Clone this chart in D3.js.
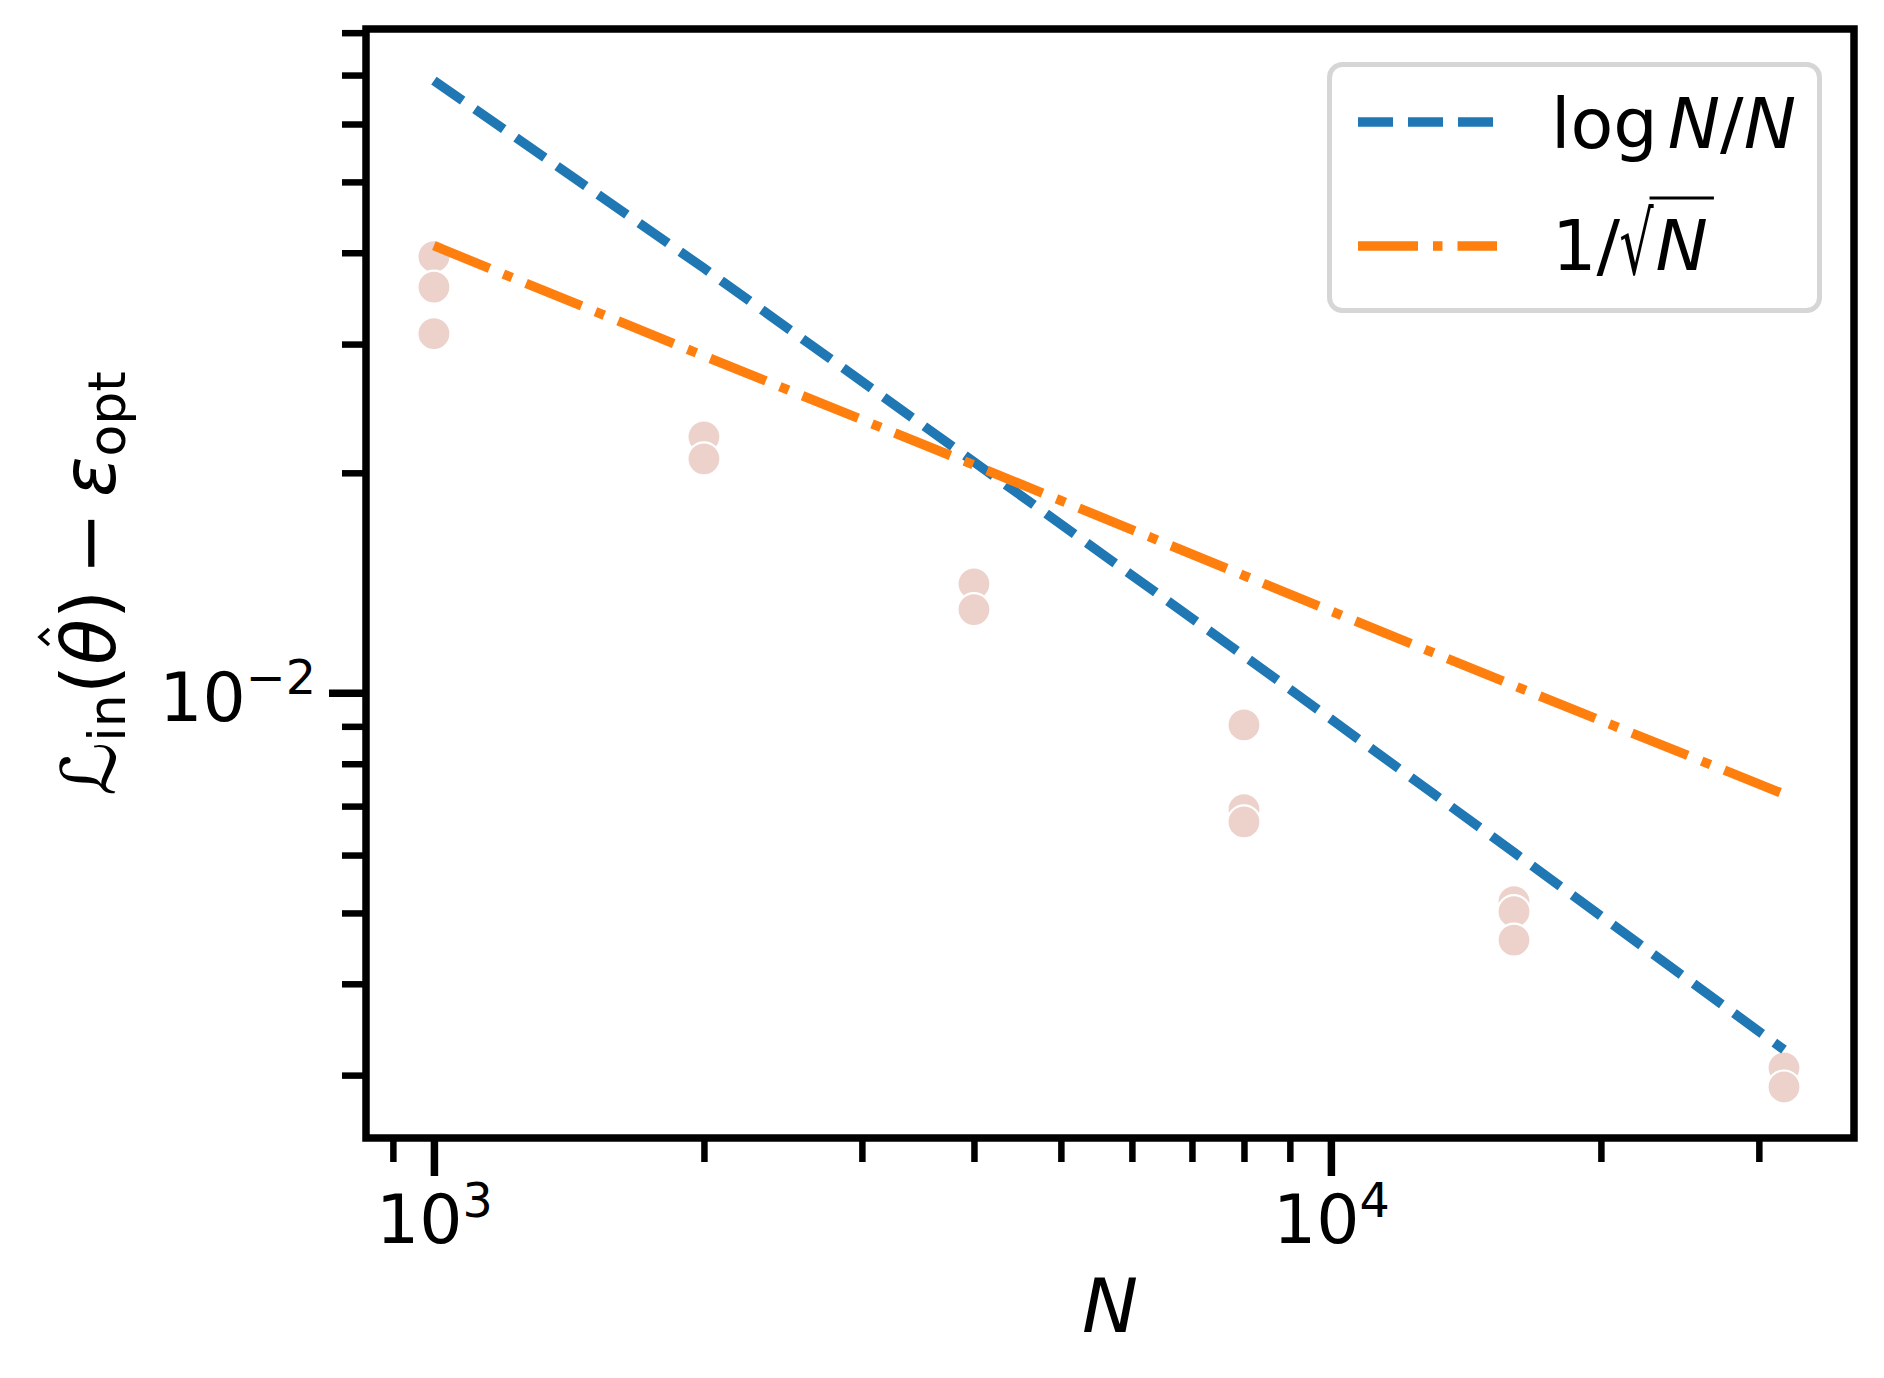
<!DOCTYPE html>
<meta charset="utf-8">
<style>
body { margin: 0; background: #fff; }
svg text { font-family: "DejaVu Sans", sans-serif; fill: #000; }
.rate { fill: none; stroke-width: 9.5; stroke-linecap: butt; }
</style>
<body>
<script src="https://d3js.org/d3.v7.min.js"></script>
<script>

// sample sizes and the two reference rates
var sizes    = [1000, 2000, 4000, 8000, 16000, 32000];
var logRate  = [0.0688, 0.0381, 0.0207, 0.01124, 0.00605, 0.00325];
var sqrtRate = [0.0409, 0.0289, 0.0205, 0.01447, 0.01023, 0.00727];

// individual runs (N, excess loss)
var runN    = [1000, 1000, 1000, 2000, 2000, 4000, 4000, 8000, 8000, 8000,
               16000, 16000, 16000, 32000, 32000];
var runLoss = [0.0395, 0.0359, 0.0310, 0.0224, 0.0209, 0.0141, 0.0130,
               0.00904, 0.00692, 0.00666, 0.00518, 0.00502, 0.00459,
               0.00307, 0.00289];

var xMajor = [1000, 10000];
var xMajorExp = ["3", "4"];
var yMajor = [0.01];
var yMajorExp = ["\u22122"];

var margin = {top: 29, right: 30, bottom: 240, left: 366},
    width = 1884 - margin.left - margin.right,
    height = 1378 - margin.top - margin.bottom;

var x = d3.scaleLog().domain([840, 38300]).range([0, width]);
var y = d3.scaleLog().domain([0.002461, 0.08093]).range([height, 0]);

var root = d3.select("body").append("svg")
    .attr("width", 1884)
    .attr("height", 1378);

var svg = root.append("g")
    .attr("transform", "translate(" + margin.left + "," + margin.top + ")");

// scatter of runs
var runs = runN.map(function(n, i) { return {n: n, v: runLoss[i]}; });
svg.selectAll(".run")
    .data(runs)
  .enter().append("circle")
    .attr("class", "run")
    .attr("cx", function(d) { return x(d.n); })
    .attr("cy", function(d) { return y(d.v); })
    .attr("r", 16.5)
    .style("fill", "#ecd2cb")
    .style("stroke", "#fff")
    .style("stroke-width", 2.2);

// reference lines
var logData = sizes.map(function(n, i) { return {n: n, v: logRate[i]}; });
var sqrtData = sizes.map(function(n, i) { return {n: n, v: sqrtRate[i]}; });
var line = d3.line()
    .x(function(d) { return x(d.n); })
    .y(function(d) { return y(d.v); });

svg.append("path")
    .data([logData])
    .attr("class", "rate")
    .style("stroke", "#1f77b4")
    .style("stroke-dasharray", "35,15")
    .attr("d", line);

svg.append("path")
    .data([sqrtData])
    .attr("class", "rate")
    .style("stroke", "#ff7f0e")
    .style("stroke-dasharray", "60,15,9.5,15")
    .attr("d", line);

// axes: minor ticks, then major ticks with 10^k labels
var xMinor = x.ticks().filter(function(t) { return xMajor.indexOf(t) < 0; });
var yMinor = y.ticks().filter(function(t) { return Math.abs(Math.log10(t) + 2) > 1e-9; });

function styleAxis(g, w) {
  g.select(".domain").remove();
  g.selectAll("text").remove();
  g.selectAll(".tick line").style("stroke", "#000").style("stroke-width", w);
}

svg.append("g")
    .attr("transform", "translate(0," + height + ")")
    .call(d3.axisBottom(x).tickValues(xMinor).tickSize(24).tickFormat(""))
    .call(styleAxis, 6.5);

var xg = svg.append("g")
    .attr("transform", "translate(0," + height + ")")
    .call(d3.axisBottom(x).tickValues(xMajor).tickSize(38).tickFormat(""))
    .call(styleAxis, 7.5);

xg.selectAll(".tick").each(function(d, i) {
  var t = d3.select(this).append("text")
      .attr("y", 105)
      .attr("text-anchor", "middle")
      .style("font-size", "68px");
  t.append("tspan").text("10");
  t.append("tspan").attr("dy", -26).style("font-size", "47.6px").text(xMajorExp[i]);
});

svg.append("g")
    .call(d3.axisLeft(y).tickValues(yMinor).tickSize(24).tickFormat(""))
    .call(styleAxis, 6.5);

var yg = svg.append("g")
    .call(d3.axisLeft(y).tickValues(yMajor).tickSize(37).tickFormat(""))
    .call(styleAxis, 7.5);

yg.selectAll(".tick").each(function(d, i) {
  var t = d3.select(this).append("text")
      .attr("x", -50)
      .attr("y", 28)
      .attr("text-anchor", "end")
      .style("font-size", "68px");
  t.append("tspan").text("10");
  t.append("tspan").attr("dy", -27).style("font-size", "47.6px").text(yMajorExp[i]);
});

// frame
svg.append("rect")
    .attr("width", width)
    .attr("height", height)
    .style("fill", "none")
    .style("stroke", "#000")
    .style("stroke-width", 7.5);

// axis labels
root.append("text")
    .attr("x", margin.left + width / 2)
    .attr("y", 1332)
    .attr("text-anchor", "middle")
    .style("font-size", "75px")
    .style("font-style", "italic")
    .text("N");

var ylab = root.append("text")
    .attr("transform", "translate(115," + (margin.top + height / 2) + ") rotate(-90)")
    .attr("text-anchor", "middle")
    .style("font-size", "75px");
ylab.append("tspan").style("font-style", "italic").text("\u2112");
ylab.append("tspan").attr("dy", 10).style("font-size", "52px").text("in");
ylab.append("tspan").attr("dy", -10).text("(");
ylab.append("tspan").style("font-style", "italic").text("\u03b8");
ylab.append("tspan").text(")\u2009\u2212\u2009");
ylab.append("tspan").style("font-style", "italic").text("\u03b5");
ylab.append("tspan").attr("dy", 10).style("font-size", "52px").text("opt");

// hat over theta (char index 4)
var th = ylab.node().getExtentOfChar(4);
var hx = th.x + th.width / 2 + 5;
root.append("path")
    .attr("transform", "translate(115," + (margin.top + height / 2) + ") rotate(-90)")
    .attr("d", "M" + (hx - 8) + ",-66L" + hx + ",-75L" + (hx + 8) + ",-66")
    .style("fill", "none")
    .style("stroke", "#000")
    .style("stroke-width", 3.5);

// legend
var legend = root.append("g");
legend.append("rect")
    .attr("x", 1329.5).attr("y", 64.5)
    .attr("width", 490).attr("height", 246)
    .attr("rx", 13)
    .style("fill", "#fff")
    .style("stroke", "#d6d6d6")
    .style("stroke-width", 5);

legend.append("line")
    .attr("x1", 1358).attr("x2", 1494).attr("y1", 122).attr("y2", 122)
    .attr("class", "rate")
    .style("stroke", "#1f77b4")
    .style("stroke-dasharray", "35,15");

legend.append("line")
    .attr("x1", 1358).attr("x2", 1497).attr("y1", 246).attr("y2", 246)
    .attr("class", "rate")
    .style("stroke", "#ff7f0e")
    .style("stroke-dasharray", "60,15,9.5,15");

var l1 = legend.append("text")
    .attr("x", 1551).attr("y", 148)
    .style("font-size", "70px");
l1.append("tspan").text("log");
l1.append("tspan").attr("dx", 10).style("font-style", "italic").text("N");
l1.append("tspan").text("/");
l1.append("tspan").style("font-style", "italic").text("N");

// 1/sqrt(N): radical glyph stretched to reach the vinculum
var one = legend.append("text")
    .attr("x", 1552).attr("y", 270)
    .style("font-size", "70px")
    .text("1/");
var rx0 = 1552 + one.node().getComputedTextLength() - 1;
var radScale = [0.75, 1.2];
var rad = legend.append("text")
    .attr("transform", "translate(" + rx0 + ",274) scale(" + radScale[0] + "," + radScale[1] + ")")
    .style("font-size", "72px")
    .text("\u221a");
var rx1 = rx0 + rad.node().getComputedTextLength() * radScale[0];
var nText = legend.append("text")
    .attr("x", rx1 + 2).attr("y", 270)
    .style("font-size", "70px")
    .style("font-style", "italic")
    .text("N");
var nx1 = rx1 + 2 + nText.node().getComputedTextLength();

legend.append("line")
    .attr("x1", rx1 - 4)
    .attr("x2", nx1 + 6)
    .attr("y1", 198).attr("y2", 198)
    .style("stroke", "#000")
    .style("stroke-width", 3);

</script>
</body>
